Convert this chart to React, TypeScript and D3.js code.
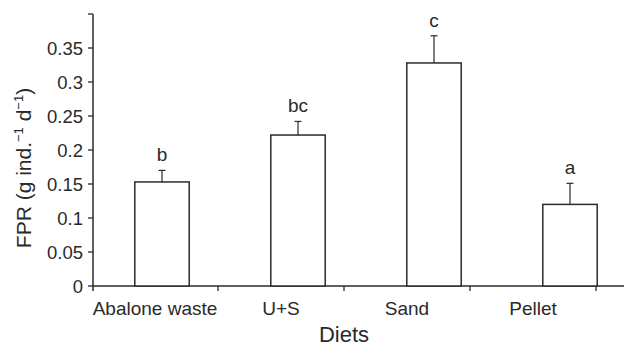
import * as d3 from 'd3'
import { useEffect, useRef } from 'react'

// data
const diets = ['Abalone waste', 'U+S', 'Sand', 'Pellet']
const fpr = [0.153, 0.222, 0.328, 0.12]
const se = [0.017, 0.02, 0.04, 0.031]
const letters = ['b', 'bc', 'c', 'a']
const yTicks = [0, 0.05, 0.1, 0.15, 0.2, 0.25, 0.3, 0.35, 0.4]

const W = 624
const H = 347

export default function App() {
  const svgRef = useRef(null)

  useEffect(() => {
    const svg = d3.select(svgRef.current)
    svg.selectAll('*').remove()

    const ink = '#2a2a2a'
    const font = '"Liberation Sans", Arial, Helvetica, sans-serif'
    const left = 93
    const base = 286

    const y = d3.scaleLinear().domain([0, 0.4]).range([base, 14])
    // category labels / ticks sit on one band scale
    const xLab = d3.scaleBand().domain(diets).range([92, 596])
    // the bars in the original are offset from the ticks
    const xBar = d3.scaleBand().domain(diets).range([94, 638]).paddingInner(0.6).paddingOuter(0.3)

    const g = svg.append('g').attr('font-family', font).attr('fill', ink)

    // y axis
    g.append('line')
      .attr('x1', left).attr('x2', left)
      .attr('y1', y(0.4)).attr('y2', base + 5)
      .attr('stroke', ink).attr('stroke-width', 1.5)
    g.selectAll('.ytick')
      .data(yTicks)
      .join('line')
      .attr('x1', left - 5).attr('x2', left)
      .attr('y1', d => y(d)).attr('y2', d => y(d))
      .attr('stroke', ink).attr('stroke-width', 1.3)
    g.selectAll('.ylab')
      .data(yTicks.filter(d => d < 0.4))
      .join('text')
      .attr('x', left - 10)
      .attr('y', d => y(d))
      .attr('dy', '0.36em')
      .attr('text-anchor', 'end')
      .attr('font-size', 18.5)
      .text(d => String(+d.toFixed(2)))

    // x axis
    g.append('line')
      .attr('x1', left - 1).attr('x2', W)
      .attr('y1', base).attr('y2', base)
      .attr('stroke', ink).attr('stroke-width', 1.5)
    const edges = diets.map(d => xLab(d)).concat([xLab(diets[3]) + xLab.bandwidth()])
    g.selectAll('.xtick')
      .data(edges.slice(1))
      .join('line')
      .attr('x1', d => d).attr('x2', d => d)
      .attr('y1', base).attr('y2', base + 5)
      .attr('stroke', ink).attr('stroke-width', 1.3)
    g.selectAll('.xlab')
      .data(diets)
      .join('text')
      .attr('x', d => xLab(d) + xLab.bandwidth() / 2)
      .attr('y', 315)
      .attr('text-anchor', 'middle')
      .attr('font-size', 19)
      .text(d => d)

    // bars
    g.selectAll('.bar')
      .data(diets)
      .join('rect')
      .attr('x', d => xBar(d))
      .attr('y', (d, i) => y(fpr[i]))
      .attr('width', xBar.bandwidth())
      .attr('height', (d, i) => base - y(fpr[i]))
      .attr('fill', '#fff')
      .attr('stroke', ink)
      .attr('stroke-width', 1.5)

    // error bars
    const cx = d => xBar(d) + xBar.bandwidth() / 2
    g.selectAll('.err')
      .data(diets)
      .join('line')
      .attr('x1', cx).attr('x2', cx)
      .attr('y1', (d, i) => y(fpr[i]))
      .attr('y2', (d, i) => y(fpr[i] + se[i]))
      .attr('stroke', ink).attr('stroke-width', 1.2)
    g.selectAll('.cap')
      .data(diets)
      .join('line')
      .attr('x1', d => cx(d) - 3.5).attr('x2', d => cx(d) + 3.5)
      .attr('y1', (d, i) => y(fpr[i] + se[i]))
      .attr('y2', (d, i) => y(fpr[i] + se[i]))
      .attr('stroke', ink).attr('stroke-width', 1.2)

    // significance letters
    g.selectAll('.letter')
      .data(diets)
      .join('text')
      .attr('x', cx)
      .attr('y', (d, i) => y(fpr[i] + se[i]) - 9)
      .attr('text-anchor', 'middle')
      .attr('font-size', 19)
      .text((d, i) => letters[i])

    // axis titles
    g.append('text')
      .attr('x', (edges[0] + edges[4]) / 2)
      .attr('y', 342)
      .attr('text-anchor', 'middle')
      .attr('font-size', 22)
      .text('Diets')

    const yt = g.append('text')
      .attr('transform', `translate(31,${168}) rotate(-90)`)
      .attr('text-anchor', 'middle')
      .attr('font-size', 21)
    yt.append('tspan').text('FPR (g ind.')
    yt.append('tspan').attr('font-size', 13).attr('dy', -8).text('\u22121')
    yt.append('tspan').attr('dy', 8).text(' d')
    yt.append('tspan').attr('font-size', 13).attr('dy', -8).text('\u22121')
    yt.append('tspan').attr('dy', 8).text(')')
  }, [])

  return (
    <svg ref={svgRef} width={W} height={H}
      style={{ position: 'absolute', left: 0, top: 0, background: '#fff' }} />
  )
}
